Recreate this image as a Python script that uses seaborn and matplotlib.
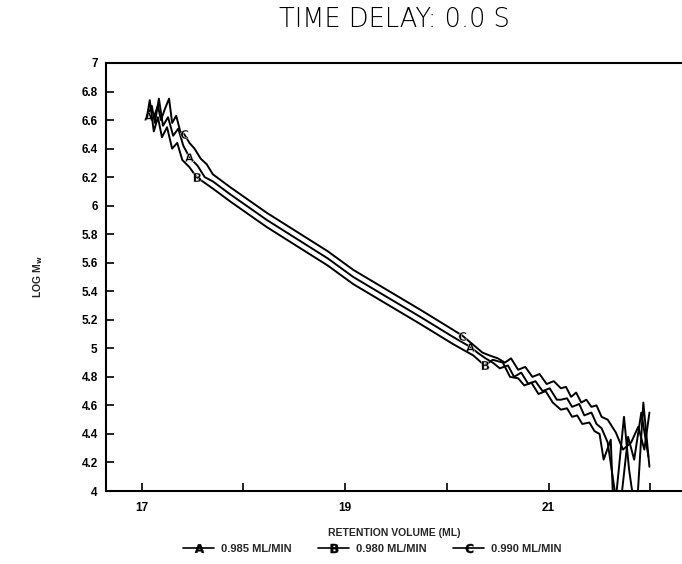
import matplotlib
matplotlib.use("Agg")
import matplotlib.pyplot as plt
from matplotlib.lines import Line2D
import seaborn as sns
import pandas as pd

sns.set_theme(style="white")
plt.rcParams['font.family'] = ['Liberation Sans', 'DejaVu Sans']

# ---- data (retention volume, log Mw) ----
a_x = [17.06, 17.10, 17.13, 17.17, 17.21, 17.26, 17.31, 17.36, 17.41, 17.47, 17.55, 17.62,
       17.70, 17.87, 18.03, 18.23, 18.43, 18.63, 18.83, 19.08, 19.41, 19.74, 20.06,
       20.23, 20.30, 20.38, 20.45, 20.52, 20.60, 20.66, 20.73, 20.80, 20.87, 20.94,
       21.01, 21.08, 21.12, 21.18, 21.23, 21.30, 21.35, 21.42, 21.47, 21.52, 21.58,
       21.69, 21.78, 21.84, 21.91, 21.98]
a_y = [6.63, 6.70, 6.58, 6.75, 6.56, 6.62, 6.49, 6.54, 6.42, 6.34, 6.28, 6.20,
       6.17, 6.08, 6.00, 5.90, 5.81, 5.72, 5.63, 5.50, 5.36, 5.22, 5.08,
       5.01, 4.97, 4.93, 4.90, 4.86, 4.88, 4.80, 4.83, 4.75, 4.77, 4.70,
       4.72, 4.64, 4.64, 4.65, 4.59, 4.61, 4.53, 4.55, 4.47, 4.44, 4.34,
       3.80, 4.38, 4.22, 4.55, 4.24]

b_x = [17.05, 17.08, 17.12, 17.16, 17.20, 17.25, 17.30, 17.35, 17.40, 17.47, 17.54,
       17.70, 17.87, 18.03, 18.23, 18.43, 18.63, 18.83, 19.08, 19.41, 19.74, 20.06,
       20.26, 20.37, 20.45, 20.55, 20.62, 20.70, 20.76, 20.83, 20.90, 20.97, 21.04,
       21.12, 21.18, 21.23, 21.28, 21.33, 21.40, 21.45, 21.50, 21.54, 21.61, 21.64,
       21.74, 21.79, 21.86, 21.93, 21.99]
b_y = [6.61, 6.74, 6.52, 6.62, 6.48, 6.55, 6.40, 6.44, 6.32, 6.27, 6.20,
       6.12, 6.03, 5.95, 5.85, 5.76, 5.67, 5.58, 5.45, 5.31, 5.17, 5.03,
       4.95, 4.88, 4.92, 4.90, 4.80, 4.79, 4.74, 4.76, 4.68, 4.70, 4.62,
       4.57, 4.58, 4.52, 4.53, 4.47, 4.48, 4.42, 4.40, 4.22, 4.36, 3.80,
       4.52, 4.15, 3.80, 4.62, 4.17]

c_x = [17.12, 17.16, 17.19, 17.23, 17.27, 17.30, 17.34, 17.38, 17.42, 17.47, 17.52, 17.58, 17.64,
       17.70, 17.87, 18.03, 18.23, 18.43, 18.63, 18.83, 19.08, 19.41, 19.74, 20.06,
       20.15, 20.25, 20.35, 20.42, 20.50, 20.57, 20.63, 20.70, 20.77, 20.84, 20.91,
       20.98, 21.05, 21.12, 21.17, 21.22, 21.27, 21.32, 21.37, 21.42, 21.47, 21.52,
       21.58, 21.66, 21.73, 21.81, 21.88, 21.94, 21.99]
c_y = [6.62, 6.70, 6.60, 6.68, 6.75, 6.58, 6.63, 6.52, 6.50, 6.44, 6.40, 6.33, 6.29,
       6.22, 6.13, 6.05, 5.95, 5.86, 5.77, 5.68, 5.55, 5.41, 5.27, 5.13,
       5.09, 5.03, 4.97, 4.95, 4.93, 4.90, 4.93, 4.85, 4.87, 4.80, 4.82,
       4.75, 4.77, 4.72, 4.73, 4.66, 4.69, 4.62, 4.64, 4.59, 4.60, 4.52,
       4.50, 4.41, 4.29, 4.34, 4.45, 4.29, 4.55]

a_marks = [0, 9, 23]
b_marks = [10, 23]
c_marks = [8, 24]

series_labels = ["0.985 ML/MIN", "0.980 ML/MIN", "0.990 ML/MIN"]
x_ticks_major = [17, 19, 21]
x_ticks_minor = [18, 20, 22]
y_ticks = [4, 4.2, 4.4, 4.6, 4.8, 5, 5.2, 5.4, 5.6, 5.8, 6, 6.2, 6.4, 6.6, 6.8, 7]
y_ticklabels = ["4", "4.2", "4.4", "4.6", "4.8", "5", "5.2", "5.4", "5.6", "5.8",
                "6", "6.2", "6.4", "6.6", "6.8", "7"]

fig = plt.figure(figsize=(6.82, 5.64), dpi=100)
ax = fig.add_axes([0.1554, 0.1294, 0.8446, 0.7589])

for xs, ys, marks, letter in [(a_x, a_y, a_marks, "A"),
                              (b_x, b_y, b_marks, "B"),
                              (c_x, c_y, c_marks, "C")]:
    df = pd.DataFrame({"x": xs, "y": ys})
    sns.lineplot(data=df, x="x", y="y", sort=False, estimator=None, ax=ax,
                 color="black", lw=1.4, marker=f"$\\mathbf{{{letter}}}$",
                 markersize=6.5, markevery=marks, markeredgewidth=0.3)

ax.set_xlim(16.65, 22.31)
ax.set_ylim(4, 7)
ax.set_xticks(x_ticks_major)
ax.set_xticklabels([str(t) for t in x_ticks_major], fontsize=8.5, fontweight='bold')
ax.set_xticks(x_ticks_minor, minor=True)
ax.set_yticks(y_ticks)
ax.set_yticklabels(y_ticklabels, fontsize=8.5, fontweight='bold')
ax.tick_params(axis='both', which='both', direction='in', length=6, width=1.2,
               colors='black', bottom=True, left=True)
ax.tick_params(axis='x', pad=8)
ax.tick_params(axis='y', pad=6)

for s in ['left', 'bottom', 'top']:
    ax.spines[s].set_visible(True)
    ax.spines[s].set_color('black')
    ax.spines[s].set_linewidth(1.5)
ax.spines['right'].set_visible(False)

ax.set_xlabel("RETENTION VOLUME (ML)", fontsize=7.5, fontweight='bold', labelpad=10)
ax.set_ylabel("")
fig.text(0.056, 0.51, r"LOG M$_\mathbf{w}$", rotation=90, fontsize=7.5,
         fontweight='bold', ha='center', va='center')

fig.text(0.579, 0.966, "TIME DELAY: 0.0 S", fontsize=18.5, ha='center', va='center',
         family=['DejaVu Sans'], fontweight='light', color='black')

handles = [Line2D([0], [0], color='black', lw=1.2, marker=f"$\\mathbf{{{l}}}$",
                  markersize=6.5, markeredgewidth=0.3) for l in ["A", "B", "C"]]
fig.legend(handles, series_labels, loc='center', bbox_to_anchor=(0.546, 0.027),
           ncol=3, frameon=False, prop={'size': 8, 'weight': 'bold'},
           handlelength=2.8, columnspacing=2.4, handletextpad=0.6)

fig.savefig("out.png", dpi=100)
